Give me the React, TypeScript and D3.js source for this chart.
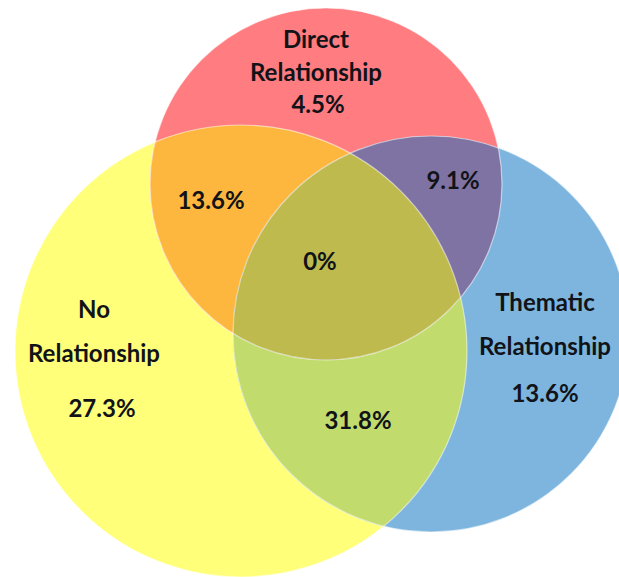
import React from "react";
import * as d3 from "d3";

// ---- data ----
const setNames = ["Direct Relationship", "No Relationship", "Thematic Relationship"];
const setKeys = ["direct", "none", "thematic"];
const regionKeys = ["direct", "none", "thematic", "direct+none", "direct+thematic", "none+thematic", "all"];
const regionValues = [4.5, 27.3, 13.6, 13.6, 9.1, 31.8, 0];

// ---- layout (positions / styles) ----
const W = 619;
const H = 577;
const circles: Record<string, { cx: number; cy: number; r: number; fill: string }> = {
  none: { cx: 241, cy: 351, r: 226, fill: "#FFFF7A" },
  direct: { cx: 326, cy: 184, r: 176, fill: "#FF7C80" },
  thematic: { cx: 431, cy: 334, r: 198, fill: "#7DB5DE" },
};
const overlapFill: Record<string, string> = {
  "direct+none": "#FDB73F",
  "direct+thematic": "#7F73A3",
  "none+thematic": "#C1DB6C",
  all: "#BEBA4E",
};
// label anchor positions: [x, y of first line]
const labelPos: Record<string, { x: number; y: number; name?: string[] }> = {
  direct: { x: 316, y: 48, name: ["Direct", "Relationship"] },
  none: { x: 94, y: 318, name: ["No", "Relationship"] },
  thematic: { x: 545, y: 311, name: ["Thematic", "Relationship"] },
  "direct+none": { x: 211, y: 209 },
  "direct+thematic": { x: 453, y: 189 },
  "none+thematic": { x: 358, y: 429 },
  all: { x: 320, y: 270 },
};
const nameGaps: Record<string, number[]> = {
  direct: [0, 33, 65],
  none: [0, 44, 99],
  thematic: [0, 44, 91],
};

const fmt = (v: number) => (v === 0 ? "0%" : d3.format(".1f")(v) + "%");
const FONT = "Lato, 'Open Sans', sans-serif";

export default function App() {
  const c = circles;
  const circleEl = (k: string, fill: string, key?: string) => (
    <circle key={key ?? k} cx={c[k].cx} cy={c[k].cy} r={c[k].r} fill={fill} />
  );
  return (
    <svg width={W} height={H} style={{ position: "absolute", left: 0, top: 0, background: "#fff" }}>
      <defs>
        {setKeys.map((k) => (
          <clipPath id={"clip-" + k} key={k}>
            <circle cx={c[k].cx} cy={c[k].cy} r={c[k].r} />
          </clipPath>
        ))}
      </defs>
      {circleEl("none", c.none.fill)}
      {circleEl("direct", c.direct.fill)}
      {circleEl("thematic", c.thematic.fill)}
      <g clipPath="url(#clip-none)">{circleEl("direct", overlapFill["direct+none"], "dn")}</g>
      <g clipPath="url(#clip-none)">{circleEl("thematic", overlapFill["none+thematic"], "nt")}</g>
      <g clipPath="url(#clip-direct)">{circleEl("thematic", overlapFill["direct+thematic"], "dt")}</g>
      <g clipPath="url(#clip-none)">
        <g clipPath="url(#clip-direct)">{circleEl("thematic", overlapFill.all, "all")}</g>
      </g>
      {setKeys.map((k) => (
        <circle
          key={"s" + k}
          cx={c[k].cx}
          cy={c[k].cy}
          r={c[k].r}
          fill="none"
          stroke="#ffffff"
          strokeOpacity={0.55}
          strokeWidth={1.2}
        />
      ))}
      <g fontFamily={FONT} fontWeight={700} fontSize={24} fill="#111318" textAnchor="middle">
        {regionKeys.map((k, i) => {
          const p = labelPos[k];
          const si = setKeys.indexOf(k);
          if (si >= 0 && p.name) {
            const gaps = nameGaps[k];
            return (
              <g key={k}>
                <title>{setNames[si]}</title>
                {p.name.map((line, j) => (
                  <text key={j} x={p.x} y={p.y + gaps[j]}>
                    {line}
                  </text>
                ))}
                <text x={p.x + (k === "none" ? 8 : k === "direct" ? 2 : 0)} y={p.y + gaps[2]}>
                  {fmt(regionValues[i])}
                </text>
              </g>
            );
          }
          return (
            <text key={k} x={p.x} y={p.y}>
              {fmt(regionValues[i])}
            </text>
          );
        })}
      </g>
    </svg>
  );
}
